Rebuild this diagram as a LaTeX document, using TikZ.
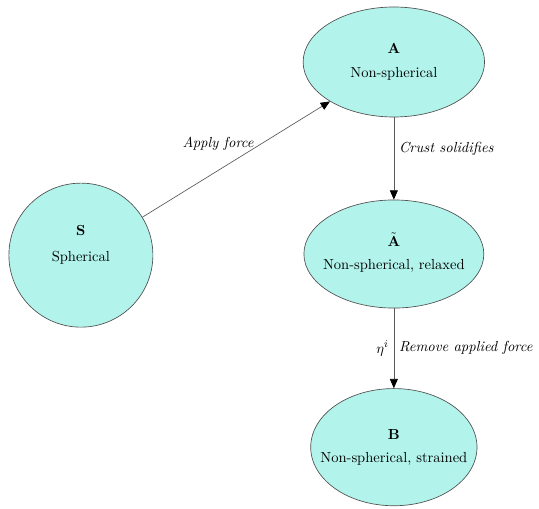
\documentclass[tikz,border=0pt,11pt]{standalone}
\usepackage{amsmath, amssymb}
\usepackage{tikz}
\usetikzlibrary{arrows.meta, shapes.geometric}
\definecolor{aquafill}{RGB}{178, 243, 235}
\definecolor{rimgray}{RGB}{80, 80, 80}
\newcommand{\statetext}[2]{\makebox[0pt]{\begin{tabular}{@{}c@{}}\textbf{#1}\\[4pt]#2\end{tabular}}}

\begin{document}
\begin{tikzpicture}[
  state/.style={ellipse, fill=aquafill, draw=rimgray, line width=0.5pt, inner sep=0pt},
  arrow/.style={-{Triangle[length=7pt, width=6pt, color=black]}, draw=black!65, line width=0.5pt},
  tag/.style={font=\itshape},
]
\useasboundingbox (0,0) rectangle (14.26,-13.44);

% Spherical start
\node[state, circle, minimum size=3.81cm] (sph) at (2.14, -6.75) {\raisebox{5pt}[0pt][0pt]{\makebox[0pt]{\begin{tabular}{@{}c@{}}\textbf{S}\\[6pt]Spherical\end{tabular}}}};

% Right-hand column
\node[state, minimum width=4.80cm, minimum height=2.91cm] (A) at (10.42, -1.64) {\statetext{A}{Non-spherical}};
\node[state, minimum width=4.76cm, minimum height=2.86cm] (At) at (10.42, -6.72) {\statetext{$\tilde{\mathbf{A}}$}{Non-spherical, relaxed}};
\node[state, minimum width=4.40cm, minimum height=3.10cm] (B) at (10.42, -11.83) {\statetext{B}{Non-spherical, strained}};

% Arrows
\draw[arrow] (sph) -- (A) node[tag, midway, xshift=-0.48cm, yshift=0.42cm] {Apply force};
\draw[arrow] (A) -- (At) node[tag, midway, right, yshift=0.26cm] {Crust solidifies};
\draw[arrow] (At) -- (B) node[tag, midway, right] {Remove applied force}
  node[midway, left] {$\eta^i$};
\end{tikzpicture}
\end{document}
